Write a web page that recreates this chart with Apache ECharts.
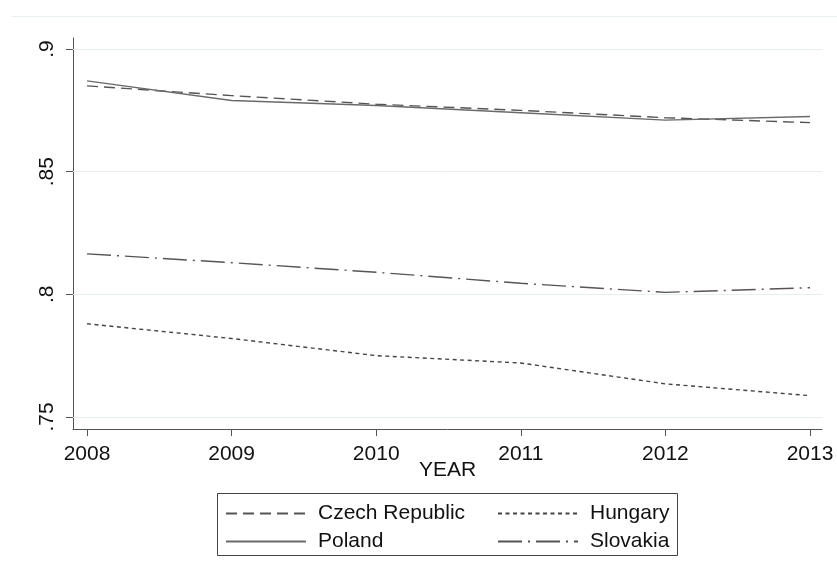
<!DOCTYPE html>
<html>
<head>
<meta charset="utf-8">
<script src="https://cdn.jsdelivr.net/npm/echarts@6/dist/echarts.min.js"></script>
<style>
  html, body { margin: 0; padding: 0; background: #fff; }
  #chart { width: 837px; height: 577px; }
</style>
</head>
<body>
<div id="chart"></div>
<script>
// data
var years = [2008, 2009, 2010, 2011, 2012, 2013];
var yTicks = [0.75, 0.8, 0.85, 0.9];
var czech = [0.885, 0.881, 0.8775, 0.875, 0.872, 0.870];
var hungary = [0.788, 0.782, 0.775, 0.772, 0.7635, 0.7587];
var poland = [0.887, 0.879, 0.877, 0.874, 0.871, 0.8725];
var slovakia = [0.8165, 0.8129, 0.809, 0.8045, 0.8008, 0.8027];

var font = 'Arial, "Liberation Sans", sans-serif';
var lineCol = '#555555';
var fs = 21;

function pairs(vals) {
  return years.map(function (y, i) { return [y, vals[i]]; });
}

var chart = echarts.init(document.getElementById('chart'));

var legendBase = {
  top: 498, orient: 'vertical',
  itemWidth: 80, itemHeight: 14, itemGap: 7,
  itemStyle: { opacity: 0 },
  textStyle: { fontFamily: font, fontSize: fs, color: '#111', padding: [0, 0, 0, 7] }
};

var option = {
  animation: false,
  backgroundColor: '#fff',
  grid: { left: 73, right: 15, top: 38, bottom: 148 },
  xAxis: {
    type: 'value',
    min: 2007.903,
    max: 2013.083,
    name: 'YEAR',
    nameLocation: 'middle',
    nameGap: 31,
    nameMoveOverlap: false,
    nameTextStyle: { fontFamily: font, fontSize: fs, color: '#111' },
    axisLine: { show: true, lineStyle: { color: lineCol, width: 1 } },
    axisTick: { show: true, length: 7, lineStyle: { color: lineCol }, customValues: years },
    axisLabel: {
      customValues: years,
      margin: 15,
      fontFamily: font, fontSize: fs, color: '#111',
      formatter: function (v) { return String(Math.round(v)); }
    },
    splitLine: { show: false }
  },
  yAxis: {
    type: 'value',
    min: 0.7451,
    max: 0.9045,
    axisLine: { show: true, lineStyle: { color: lineCol, width: 1 } },
    axisTick: { show: true, length: 7, lineStyle: { color: lineCol }, customValues: yTicks },
    axisLabel: {
      customValues: yTicks,
      rotate: 90,
      margin: 15,
      fontFamily: font, fontSize: fs, color: '#111',
      formatter: function (v) { return String(+v.toFixed(2)).replace(/^0\./, '.'); }
    },
    splitLine: { show: false }
  },
  legend: [
    Object.assign({ left: 220, data: ['Czech Republic', 'Poland'] }, legendBase),
    Object.assign({ left: 492, data: ['Hungary', 'Slovakia'] }, legendBase)
  ],
  graphic: [
    {
      type: 'rect', silent: true,
      shape: { x: 217.5, y: 493.5, width: 460, height: 62 },
      style: { fill: 'none', stroke: '#444', lineWidth: 1 }
    },
    {
      type: 'line', silent: true,
      shape: { x1: 12, y1: 16.5, x2: 837, y2: 16.5 },
      style: { stroke: '#e8eff1', lineWidth: 1 }
    }
  ],
  series: [
    {
      name: 'grid', type: 'line', data: [], z: 1, silent: true,
      markLine: {
        silent: true, symbol: 'none', label: { show: false },
        lineStyle: { color: '#e6eef1', type: 'solid', width: 1 },
        data: yTicks.map(function (t) { return { yAxis: t }; })
      }
    },
    {
      name: 'Czech Republic', type: 'line', data: pairs(czech), symbol: 'none', z: 3,
      lineStyle: { color: lineCol, width: 1.4, type: [11, 6] }, itemStyle: { color: lineCol }
    },
    {
      name: 'Hungary', type: 'line', data: pairs(hungary), symbol: 'none', z: 3,
      lineStyle: { color: '#444', width: 1.4, type: [4, 3.5] }, itemStyle: { color: '#444' }
    },
    {
      name: 'Poland', type: 'line', data: pairs(poland), symbol: 'none', z: 3,
      lineStyle: { color: '#6a6a6a', width: 1.4, type: 'solid' }, itemStyle: { color: '#6a6a6a' }
    },
    {
      name: 'Slovakia', type: 'line', data: pairs(slovakia), symbol: 'none', z: 3,
      lineStyle: { color: lineCol, width: 1.4, type: [24, 6, 2, 6] }, itemStyle: { color: lineCol }
    }
  ]
};

chart.setOption(option);
</script>
</body>
</html>
